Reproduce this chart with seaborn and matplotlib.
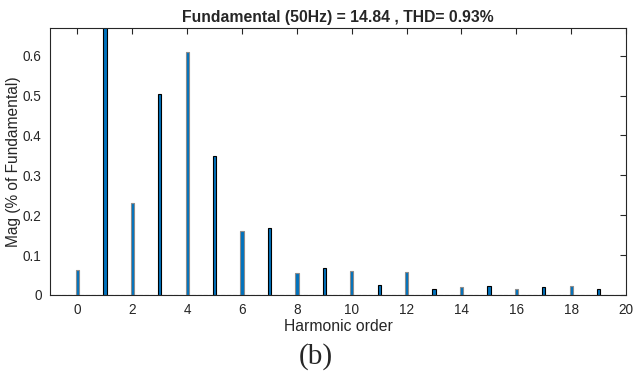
import numpy as np
import pandas as pd
import matplotlib
matplotlib.use("Agg")
import matplotlib.pyplot as plt
import seaborn as sns

# harmonic spectrum (% of fundamental), fundamental itself is 100 and gets clipped
orders = list(range(20))
mags = [0.063, 100.0, 0.230, 0.503, 0.610, 0.348, 0.160, 0.167, 0.054, 0.067,
        0.061, 0.026, 0.057, 0.016, 0.019, 0.023, 0.015, 0.019, 0.022, 0.015]
xticks = list(range(0, 21, 2))
yticks = [0, 0.1, 0.2, 0.3, 0.4, 0.5, 0.6]
ytick_labels = ["0", "0.1", "0.2", "0.3", "0.4", "0.5", "0.6"]
title = "Fundamental (50Hz) = 14.84 , THD= 0.93%"

df = pd.DataFrame({"order": orders, "mag": mags})

sns.set_style("white")
plt.rcParams["font.family"] = ["Liberation Sans", "DejaVu Sans"]

fig = plt.figure(figsize=(6.33, 3.71), dpi=100)
ax = fig.add_axes([0.079, 0.205, 0.910, 0.720])

sns.barplot(data=df, x="order", y="mag", native_scale=True, width=0.12,
            color="#0072BD", saturation=1, edgecolor="black", linewidth=0.8, ax=ax)

# even-order bars have a lighter outline in the original
for o, p in zip(orders, ax.patches):
    if o % 2 == 0:
        p.set_edgecolor("#8c8c8c")

ax.axhline(0, color="#888888", linestyle="--", linewidth=0.8, zorder=3)

ax.set_xlim(-1, 20)
ax.set_ylim(0, 0.67)
ax.set_xticks(xticks)
ax.set_xticklabels([str(t) for t in xticks])
ax.set_yticks(yticks)
ax.set_yticklabels(ytick_labels)
ax.tick_params(direction="in", top=True, right=True, length=4, width=0.8,
               labelsize=9.8, colors="#262626", pad=6)
for s in ax.spines.values():
    s.set_color("#262626")
    s.set_linewidth(0.8)

ax.set_title(title, fontsize=11.3, fontweight="bold", pad=4)
ax.set_xlabel("Harmonic order", fontsize=11.3, color="#262626", labelpad=1)
ax.set_ylabel("Mag (% of Fundamental)", fontsize=11.2, color="#262626", labelpad=1)

fig.text(0.499, 0.040, "(b)", family=["Liberation Serif", "DejaVu Serif"],
         fontsize=21, ha="center", va="center")

fig.savefig("out.png", dpi=100)
